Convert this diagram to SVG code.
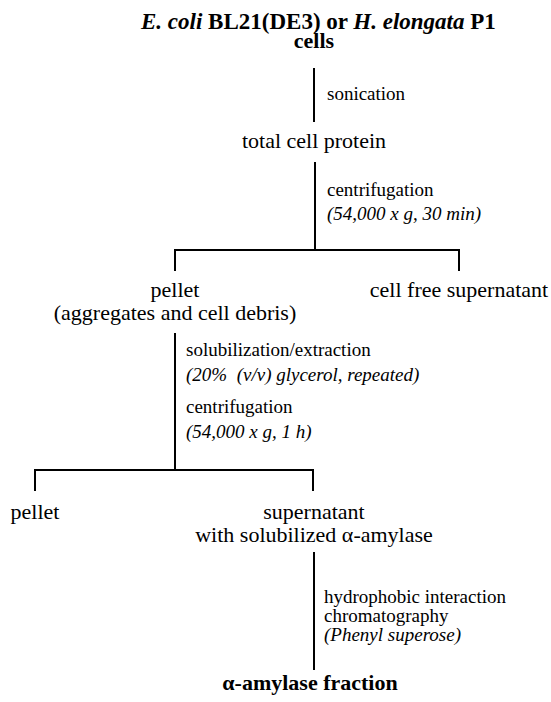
<svg xmlns="http://www.w3.org/2000/svg" width="551" height="702" viewBox="0 0 551 702" style="font-family:'Liberation Serif',serif">
<rect width="551" height="702" fill="#fff"/>
<g id="connectors" stroke="#000" stroke-width="2" fill="none">
<path d="M314 68V122"/>
<path d="M315 162V250"/>
<path d="M175 271V250H459V271"/>
<path d="M175 333V470"/>
<path d="M35 491V470H313V491"/>
<path d="M314 552V670"/>
</g>
<g id="start">
<text x="141" y="29" font-size="23" font-weight="bold" style="font-family:'Liberation Serif',serif"><tspan font-style="italic">E. coli</tspan> BL21(DE3) or <tspan font-style="italic">H. elongata</tspan> P1</text>
<text x="314" y="48" font-size="22" font-weight="bold" text-anchor="middle" style="font-family:'Liberation Serif',serif">cells</text>
</g>
<g id="step1"><text x="327" y="100" font-size="19" style="font-family:'Liberation Serif',serif">sonication</text></g>
<g id="total"><text x="314" y="148" font-size="22" text-anchor="middle" style="font-family:'Liberation Serif',serif">total cell protein</text></g>
<g id="step2">
<text x="327" y="196" font-size="19" style="font-family:'Liberation Serif',serif">centrifugation</text>
<text x="327" y="220" font-size="19" font-style="italic" style="font-family:'Liberation Serif',serif">(54,000 x g, 30 min)</text>
</g>
<g id="pellet1">
<text x="175" y="297" font-size="22" text-anchor="middle" style="font-family:'Liberation Serif',serif">pellet</text>
<text x="175" y="320" font-size="22" text-anchor="middle" style="font-family:'Liberation Serif',serif">(aggregates and cell debris)</text>
</g>
<g id="supernatant1"><text x="459" y="297" font-size="22" text-anchor="middle" style="font-family:'Liberation Serif',serif">cell free supernatant</text></g>
<g id="step3">
<text x="186" y="356" font-size="19" style="font-family:'Liberation Serif',serif">solubilization/extraction</text>
<text x="186" y="381" font-size="19" font-style="italic" style="font-family:'Liberation Serif',serif">(20%&#160; (v/v) glycerol, repeated)</text>
<text x="186" y="413" font-size="19" style="font-family:'Liberation Serif',serif">centrifugation</text>
<text x="186" y="438" font-size="19" font-style="italic" style="font-family:'Liberation Serif',serif">(54,000 x g, 1 h)</text>
</g>
<g id="pellet2"><text x="35" y="519" font-size="22" text-anchor="middle" style="font-family:'Liberation Serif',serif">pellet</text></g>
<g id="supernatant2">
<text x="314" y="519" font-size="22" text-anchor="middle" style="font-family:'Liberation Serif',serif">supernatant</text>
<text x="314" y="542" font-size="22" text-anchor="middle" style="font-family:'Liberation Serif',serif">with solubilized &#945;-amylase</text>
</g>
<g id="step4">
<text x="324" y="603" font-size="19" style="font-family:'Liberation Serif',serif">hydrophobic interaction</text>
<text x="324" y="622" font-size="19" style="font-family:'Liberation Serif',serif">chromatography</text>
<text x="324" y="641" font-size="19" font-style="italic" style="font-family:'Liberation Serif',serif">(Phenyl superose)</text>
</g>
<g id="fraction"><text x="310" y="690" font-size="22" font-weight="bold" text-anchor="middle" style="font-family:'Liberation Serif',serif">&#945;-amylase fraction</text></g>
</svg>
